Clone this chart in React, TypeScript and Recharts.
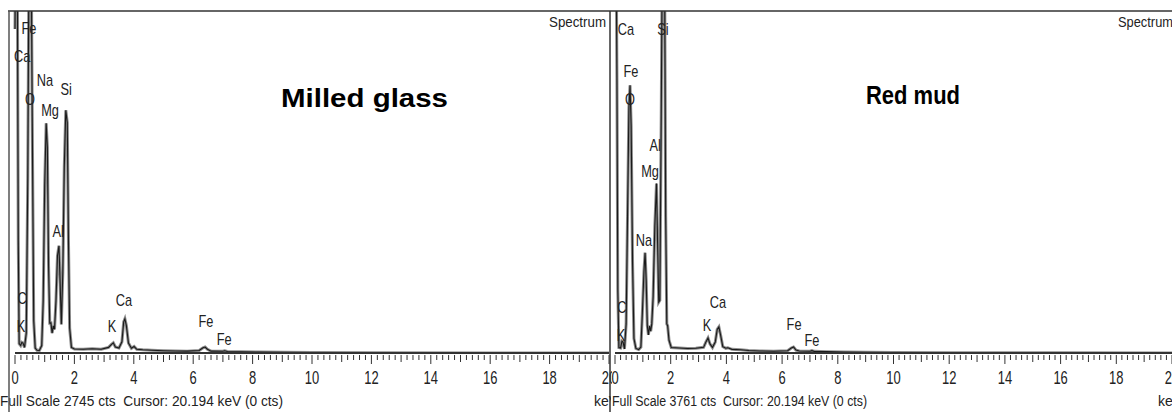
import React from 'react';
import { LineChart, Line, XAxis, YAxis, ReferenceDot } from 'recharts';

// energy (keV) / counts
const glassEnergy = [
  0.0, 0.04, 0.08, 0.11, 0.14, 0.19, 0.23, 0.27, 0.32, 0.38,
  0.43, 0.48, 0.53, 0.58, 0.63, 0.68, 0.74, 0.82, 0.9, 0.95,
  1.0, 1.05, 1.09, 1.13, 1.17, 1.21, 1.25, 1.29, 1.33, 1.38,
  1.43, 1.48, 1.52, 1.56, 1.61, 1.66, 1.71, 1.76, 1.8, 1.84,
  1.9, 2.0, 2.3, 2.6, 2.9, 3.15, 3.25, 3.31, 3.38, 3.5,
  3.6, 3.66, 3.7, 3.75, 3.82, 3.92, 4.01, 4.1, 4.3, 4.6,
  5.0, 5.4, 5.8, 6.2, 6.33, 6.4, 6.48, 6.6, 7.0, 7.06,
  7.15, 7.6, 8.2, 9.0, 10.0, 12.0, 16.0, 20.0,
];
const glassCounts = [
  2600, 4200, 3000, 900, 75, 60, 85, 80, 45, 160,
  1400, 3600, 3800, 1900, 260, 40, 22, 20, 60, 420,
  1350, 1843, 1650, 700, 240, 241, 160, 217, 190, 420,
  780, 861, 560, 230, 650, 1500, 1948, 1850, 900, 200,
  45, 32, 30, 34, 30, 45, 70, 82, 48, 40,
  90, 250, 274, 220, 80, 38, 52, 30, 26, 22,
  18, 16, 15, 20, 42, 48, 30, 15, 14, 18,
  12, 10, 8, 6, 4, 2, 1, 0,
];

const mudEnergy = [
  0.0, 0.03, 0.07, 0.1, 0.14, 0.2, 0.25, 0.29, 0.34, 0.4,
  0.45, 0.5, 0.54, 0.58, 0.63, 0.68, 0.75, 0.85, 0.93, 0.98,
  1.04, 1.08, 1.12, 1.16, 1.2, 1.24, 1.28, 1.32, 1.37, 1.43,
  1.49, 1.53, 1.57, 1.61, 1.66, 1.71, 1.77, 1.82, 1.86, 1.89,
  1.94, 2.02, 2.3, 2.6, 2.9, 3.18, 3.27, 3.34, 3.41, 3.5,
  3.6, 3.67, 3.73, 3.79, 3.87, 3.98, 4.05, 4.2, 4.5, 4.8,
  5.2, 5.7, 6.2, 6.33, 6.41, 6.5, 6.62, 7.0, 7.07, 7.15,
  7.6, 8.2, 9.0, 10.0, 12.0, 16.0, 20.0,
];
const mudCounts = [
  5000, 5000, 3000, 700, 60, 55, 130, 120, 45, 320,
  1500, 2700, 2945, 2500, 1000, 160, 50, 38, 65, 420,
  900, 1103, 800, 300, 200, 298, 240, 320, 620, 1400,
  1864, 1200, 560, 580, 2600, 5000, 5000, 1500, 320, 300,
  140, 60, 55, 50, 52, 62, 125, 165, 100, 60,
  120, 260, 287, 200, 70, 52, 58, 40, 36, 28,
  22, 20, 25, 55, 66, 32, 22, 20, 26, 18,
  15, 11, 8, 6, 3, 2, 0,
];

// peak labels: text, keV, counts (where the label sits)
const glassTags = ['Fe', 'Ca', 'Na', 'O', 'Si', 'Mg', 'Al', 'C', 'K', 'K', 'Ca', 'Fe', 'Fe'];
const glassTagE = [0.47, 0.24, 1.01, 0.5, 1.72, 1.18, 1.45, 0.24, 0.2, 3.27, 3.67, 6.43, 7.04];
const glassTagC = [2601, 2377, 2184, 2032, 2112, 1943, 972, 434, 209, 209, 418, 249, 112];

const mudTags = ['Ca', 'Si', 'Fe', 'O', 'Al', 'Mg', 'Na', 'C', 'K', 'K', 'Ca', 'Fe', 'Fe'];
const mudTagE = [0.39, 1.72, 0.57, 0.54, 1.44, 1.26, 1.04, 0.25, 0.22, 3.3, 3.7, 6.43, 7.07];
const mudTagC = [3553, 3553, 3091, 2783, 2277, 1991, 1232, 506, 198, 308, 561, 319, 143];

const majorTicks = [0, 2, 4, 6, 8, 10, 12, 14, 16, 18, 20];
const minorStep = 0.2;
const allTicks = Array.from({ length: Math.round(20 / minorStep) + 1 }, (_, i) => +(i * minorStep).toFixed(1));

const glassFooter = 'Full Scale 2745 cts\u00A0\u00A0Cursor: 20.194 keV (0 cts)';
const mudFooter = 'Full Scale 3761 cts\u00A0\u00A0Cursor: 20.194 keV (0 cts)';

const FONT = '"Liberation Sans", Arial, sans-serif';
const INK = '#222';

const toRows = (e: number[], c: number[]) =>
  e.slice(0, Math.min(e.length, c.length)).map((v, i) => ({ kev: v, cts: c[i] }));

const KevTick = (props: any) => {
  const { x, y, payload } = props;
  const v = payload.value;
  const fifth = Math.round(v * 5);
  const isMajor = majorTicks.includes(v);
  const len = isMajor ? 9 : fifth % 5 === 0 ? 7 : 5;
  return (
    <g>
      <line x1={x} x2={x} y1={y + 2} y2={y + 2 + len} stroke="#333" strokeWidth={1} />
      {isMajor && (
        <text
          transform={`translate(${x},${y + 31}) scale(0.72,1)`}
          textAnchor="middle"
          fontSize={18}
          fontFamily={FONT}
          fill={INK}
        >
          {v}
        </text>
      )}
    </g>
  );
};

const tagShape = (text: string) => (p: any) => (
  <text
    transform={`translate(${p.cx},${p.cy}) scale(0.8,1)`}
    textAnchor="middle"
    dominantBaseline="central"
    fontSize={16}
    fontFamily={FONT}
    fill={INK}
  >
    {text}
  </text>
);

interface PanelProps {
  rows: { kev: number; cts: number }[];
  fullScale: number;
  tags: string[];
  tagE: number[];
  tagC: number[];
  width: number;
  marginLeft: number;
  marginRight: number;
}

const SpectrumPanel: React.FC<PanelProps> = ({ rows, fullScale, tags, tagE, tagC, width, marginLeft, marginRight }) => (
  <LineChart
    width={width}
    height={412}
    data={rows}
    margin={{ top: 11, right: marginRight, bottom: 0, left: marginLeft }}
  >
    <XAxis
      dataKey="kev"
      type="number"
      domain={[0, 20]}
      ticks={allTicks}
      interval={0}
      height={59}
      tickSize={0}
      tickMargin={0}
      tickLine={false}
      tick={KevTick}
      axisLine={{ stroke: '#333', strokeWidth: 2 }}
    />
    <YAxis hide type="number" domain={[0, fullScale]} allowDataOverflow />
    <Line
      dataKey="cts"
      type="linear"
      stroke="#8c8c8c"
      strokeWidth={3}
      dot={false}
      isAnimationActive={false}
    />
    <Line
      dataKey="cts"
      type="linear"
      stroke="#1a1a1a"
      strokeWidth={1.1}
      dot={false}
      isAnimationActive={false}
    />
    {tags.map((t, i) => (
      <ReferenceDot key={i} x={tagE[i]} y={tagC[i]} r={1} shape={tagShape(t)} />
    ))}
  </LineChart>
);

export default function App() {
  return (
    <div
      style={{
        position: 'absolute',
        left: 0,
        top: 0,
        width: 1172,
        height: 412,
        overflow: 'hidden',
        background: '#fff',
      }}
    >
      <div style={{ position: 'absolute', left: 0, top: 0 }}>
        <SpectrumPanel
          rows={toRows(glassEnergy, glassCounts)}
          fullScale={2745}
          tags={glassTags}
          tagE={glassTagE}
          tagC={glassTagC}
          width={612}
          marginLeft={15}
          marginRight={3}
        />
      </div>
      <svg width={1172} height={412} style={{ position: 'absolute', left: 0, top: 0 }}>
        <text x={0} y={406} fontSize={14} fontFamily={FONT} fill={INK} textLength={283} lengthAdjust="spacingAndGlyphs">
          {glassFooter}
        </text>
        <text x={594} y={406} fontSize={14} fontFamily={FONT} fill={INK}>
          keV
        </text>
        <rect x={611} y={392} width={561} height={20} fill="#fff" />
      </svg>
      <div style={{ position: 'absolute', left: 610, top: 0 }}>
        <SpectrumPanel
          rows={toRows(mudEnergy, mudCounts)}
          fullScale={3761}
          tags={mudTags}
          tagE={mudTagE}
          tagC={mudTagC}
          width={562}
          marginLeft={5}
          marginRight={0}
        />
      </div>
      <svg
        width={1172}
        height={412}
        style={{ position: 'absolute', left: 0, top: 0, pointerEvents: 'none' }}
      >
        <line x1={8} x2={1172} y1={11} y2={11} stroke="#333" strokeWidth={1.5} />
        <line x1={9} x2={9} y1={11} y2={412} stroke="#555" strokeWidth={1.5} />
        <line x1={610} x2={610} y1={11} y2={412} stroke="#333" strokeWidth={1.5} />
        <text x={549} y={27} fontSize={15} fontFamily={FONT} fill={INK} textLength={57} lengthAdjust="spacingAndGlyphs">
          Spectrum
        </text>
        <text x={1118} y={27} fontSize={15} fontFamily={FONT} fill={INK} textLength={55} lengthAdjust="spacingAndGlyphs">
          Spectrum
        </text>
        <text x={281} y={107} fontSize={26} fontWeight="bold" fontFamily={FONT} fill="#000" textLength={167} lengthAdjust="spacingAndGlyphs">
          Milled glass
        </text>
        <text x={866} y={104} fontSize={26} fontWeight="bold" fontFamily={FONT} fill="#000" textLength={94} lengthAdjust="spacingAndGlyphs">
          Red mud
        </text>
        <text x={612} y={406} fontSize={14} fontFamily={FONT} fill={INK} textLength={255} lengthAdjust="spacingAndGlyphs">
          {mudFooter}
        </text>
        <text x={1158} y={406} fontSize={14} fontFamily={FONT} fill={INK}>
          keV
        </text>
      </svg>
    </div>
  );
}
